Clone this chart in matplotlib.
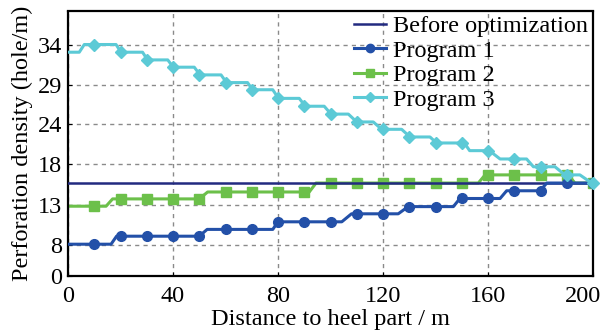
import numpy as np
import matplotlib
matplotlib.use("Agg")
import matplotlib.pyplot as plt
import matplotlib.transforms as mtransforms
from matplotlib.lines import Line2D

plt.rcParams['font.family'] = ['Liberation Serif', 'DejaVu Serif']

# y tick labels are not evenly spaced in value in the original; knots map label value -> drawn height
tick_vals = [0, 8, 13, 18, 24, 29, 34]
knot_vals = np.array([-5, 0, 8, 13, 18, 24, 29, 34, 40])
knot_pos = np.array([-19.4, 0, 31, 71, 111.7, 151.7, 191, 231.5, 280.1])

before_y = 15.7

# Program 1 (line vertices, then markers every 10 m)
p1_x = [0, 16.4, 18.5, 50, 53, 78, 80, 104.3, 108, 125.8, 129.6, 146.8, 149.3,
        164.6, 167.1, 179.8, 182.4, 200]
p1_y = [8.1, 8.1, 9.1, 9.1, 9.95, 9.95, 10.9, 10.9, 11.9, 11.9, 12.8, 12.8, 13.8,
        13.8, 14.75, 14.75, 15.7, 15.7]
p1_mx = [10, 20, 30, 40, 50, 60, 70, 80, 90, 100, 110, 120, 130, 140, 150, 160, 170, 180, 190, 200]
p1_my = [8.1, 9.1, 9.1, 9.1, 9.1, 9.95, 9.95, 10.9, 10.9, 10.9, 11.9, 11.9, 12.8, 12.8,
         13.8, 13.8, 14.75, 14.75, 15.7, 15.7]

# Program 2
p2_x = [0, 14.5, 17, 50, 53.2, 91.9, 94.5, 156.3, 158.9, 190.6, 193.1, 200]
p2_y = [12.85, 12.85, 13.75, 13.75, 14.6, 14.6, 15.7, 15.7, 16.7, 16.7, 15.7, 15.7]
p2_mx = [10, 20, 30, 40, 50, 60, 70, 80, 90, 100, 110, 120, 130, 140, 150, 160, 170, 180, 190, 200]
p2_my = [12.85, 13.75, 13.75, 13.75, 13.75, 14.6, 14.6, 14.6, 14.6, 15.7, 15.7, 15.7, 15.7,
         15.7, 15.7, 16.7, 16.7, 16.7, 16.7, 15.7]

# Program 3
p3_x = [0, 4.3, 6.2, 18.3, 20.2, 28.4, 30.3, 38, 40.1, 48.1, 50.3, 58.3, 60.4, 68.4, 70.3,
        78, 80.2, 88.1, 90.4, 97.6, 100.2, 106.8, 110, 116.3, 119.5, 127.1, 130.3, 137.9,
        140.4, 151, 153, 160.5, 164.6, 174.7, 177.3, 185.5, 189.3, 195, 199.5]
p3_y = [33.05, 33.05, 34.0, 34.0, 33.05, 33.05, 32.1, 32.1, 31.2, 31.2, 30.25, 30.25, 29.3,
        29.3, 28.4, 28.4, 27.3, 27.3, 26.3, 26.3, 25.3, 25.3, 24.3, 24.3, 23.25, 23.25, 22.1,
        22.1, 21.2, 21.2, 20.05, 20.05, 18.8, 18.8, 17.7, 17.7, 16.7, 16.7, 15.7]
p3_mx = [10, 20, 30, 40, 50, 60, 70, 80, 90, 100, 110, 120, 130, 140, 150, 160, 170, 180, 190, 200]
p3_my = [34.0, 33.05, 32.1, 31.2, 30.25, 29.3, 28.4, 27.3, 26.3, 25.3, 24.3, 23.25, 22.1,
         21.2, 21.2, 20.05, 18.8, 17.7, 16.7, 15.7]

c_before = '#222a80'
c_p1 = '#2350a8'
c_p2 = '#6cc04a'
c_p3 = '#5ccad6'


def fwd(v):
    return np.interp(v, knot_vals, knot_pos)


def inv(p):
    return np.interp(p, knot_pos, knot_vals)


fig = plt.figure(figsize=(6.04, 3.33), dpi=100)
ax = fig.add_axes([68 / 604, 57 / 333, 525 / 604, 265.5 / 333])
ax.set_yscale('function', functions=(fwd, inv))

ax.plot(p2_x, p2_y, color=c_p2, lw=2.2, zorder=2)
ax.plot(p2_mx, p2_my, 's', color=c_p2, ms=6.5, zorder=2)
ax.axhline(before_y, color=c_before, lw=1.8, zorder=3)
ax.plot(p1_x, p1_y, color=c_p1, lw=2.2, zorder=4)
ax.plot(p1_mx, p1_my, 'o', color=c_p1, ms=7, zorder=4)
ax.plot(p3_x, p3_y, color=c_p3, lw=2.2, zorder=5)
ax.plot(p3_mx, p3_my, 'D', color=c_p3, ms=6.5, zorder=5, clip_on=False)

ax.set_xlim(0, 200)
ax.set_ylim(0, 38.2)
ax.set_xticks([0, 40, 80, 120, 160, 200])
ax.set_yticks(tick_vals)
ax.set_yticklabels([str(v) for v in tick_vals])
ax.tick_params(direction='in', length=3, labelsize=17.5)
ax.tick_params(axis='x', pad=7)
ax.tick_params(axis='y', pad=4)
ax.grid(True, color='#8a8a8a', ls=(0, (3, 3)), lw=1)
ax.set_axisbelow(True)
for s in ax.spines.values():
    s.set_color('black')
    s.set_linewidth(1.6)
    s.set_linestyle((0, (4, 1)))

# keep the last x label inside the canvas, nudged right like the original
last = ax.get_xticklabels()[-1]
last.set_ha('right')
last.set_transform(last.get_transform() +
                   mtransforms.ScaledTranslation(8 / 100, 0, fig.dpi_scale_trans))

ax.set_xlabel('Distance to heel part / m', fontsize=17.5, labelpad=2)
ax.set_ylabel('Perforation density (hole/m)', fontsize=17.5, labelpad=4)

handles = [
    Line2D([], [], color=c_before, lw=1.8, label='Before optimization'),
    Line2D([], [], color=c_p1, lw=2.2, marker='o', ms=6, label='Program 1'),
    Line2D([], [], color=c_p2, lw=2.2, marker='s', ms=5.5, label='Program 2'),
    Line2D([], [], color=c_p3, lw=2.2, marker='D', ms=5.5, label='Program 3'),
]
ax.legend(handles=handles, loc='upper right', frameon=False, fontsize=17.5,
          handlelength=1.3, handletextpad=0.3, labelspacing=0.1,
          borderaxespad=0.05, borderpad=0.15)

fig.savefig('out.png', dpi=100)
